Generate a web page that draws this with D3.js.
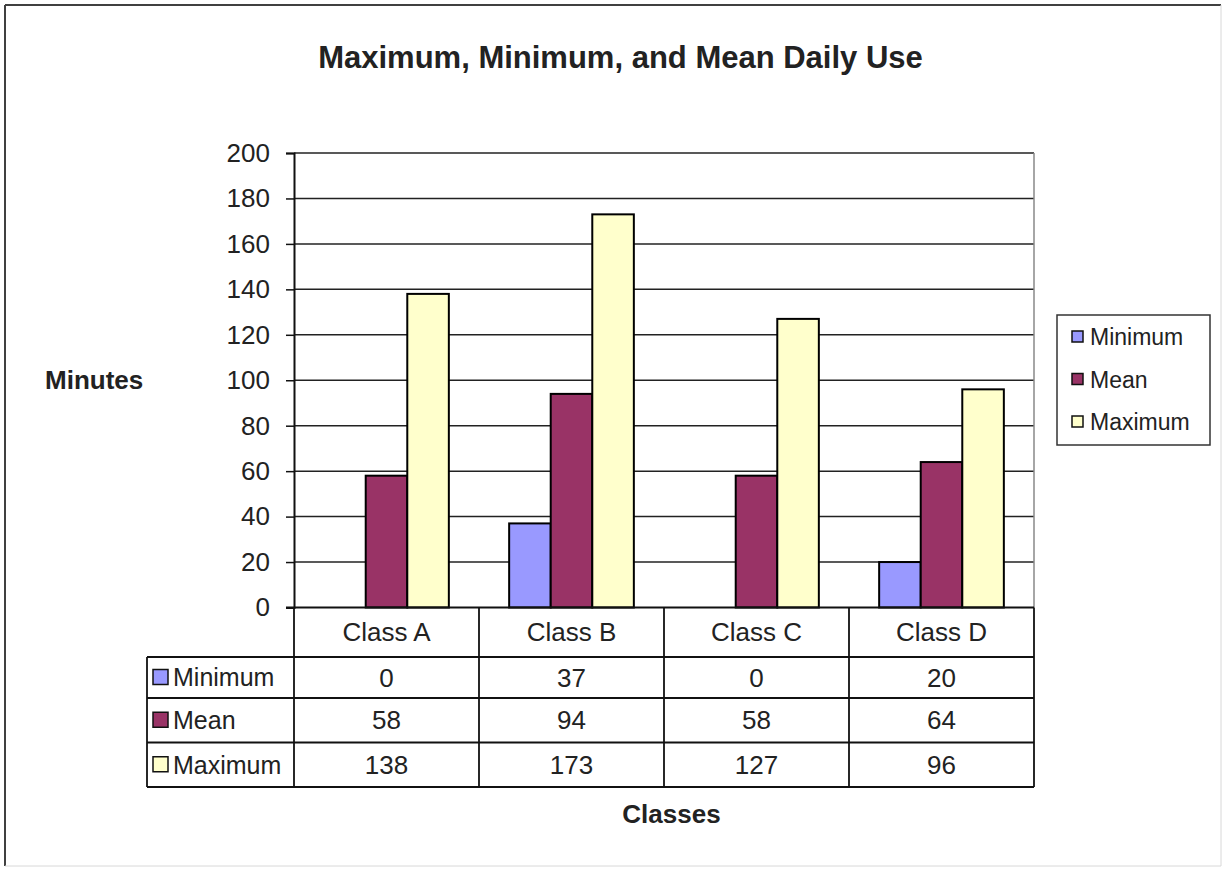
<!DOCTYPE html>
<html>
<head>
<meta charset="utf-8">
<script src="https://cdn.jsdelivr.net/npm/d3@7"></script>
<style>
html,body{margin:0;padding:0;background:#fff;}
svg{display:block;}
text{font-family:Arial,"Liberation Sans",sans-serif;fill:#222;}
</style>
</head>
<body>
<svg id="chart" width="1223" height="870"></svg>
<script>
const categories = ["Class A", "Class B", "Class C", "Class D"];
const seriesNames = ["Minimum", "Mean", "Maximum"];
const minimumValues = [0, 37, 0, 20];
const meanValues = [58, 94, 58, 64];
const maximumValues = [138, 173, 127, 96];
const yTicks = [0, 20, 40, 60, 80, 100, 120, 140, 160, 180, 200];
const seriesColors = ["#9999FF", "#993366", "#FFFFCC"];
const titleText = "Maximum, Minimum, and Mean Daily Use";
const yTitle = "Minutes";
const xTitle = "Classes";

const seriesValues = [minimumValues, meanValues, maximumValues];

const svg = d3.select("#chart");

// outer frame
svg.append("line").attr("x1",5).attr("y1",5).attr("x2",1221).attr("y2",5).attr("stroke","#404040").attr("stroke-width",2);
svg.append("line").attr("x1",5).attr("y1",5).attr("x2",5).attr("y2",866).attr("stroke","#404040").attr("stroke-width",2);
svg.append("line").attr("x1",1221).attr("y1",5).attr("x2",1221).attr("y2",866).attr("stroke","#d8d8d8").attr("stroke-width",1);
svg.append("line").attr("x1",5).attr("y1",866).attr("x2",1221).attr("y2",866).attr("stroke","#d8d8d8").attr("stroke-width",1);

const plotL = 294, plotR = 1034, plotT = 153, plotB = 607.5;

const x0 = d3.scaleBand().domain(categories).range([plotL, plotR]).padding(0);
const bw = x0.bandwidth();
const x1 = d3.scaleBand().domain(seriesNames).range([bw*0.163, bw*0.837]).padding(0);
const y = d3.scaleLinear().domain([0, 200]).range([plotB, plotT]);

// title
svg.append("text").attr("x", 620.5).attr("y", 68).attr("text-anchor","middle")
  .attr("font-size", 31).attr("font-weight","bold").attr("fill","#111").text(titleText);

// gridlines
svg.append("g").selectAll("line").data(yTicks.filter(d=>d>0)).join("line")
  .attr("x1", plotL).attr("x2", plotR)
  .attr("y1", d=>y(d)).attr("y2", d=>y(d))
  .attr("stroke", "#222").attr("stroke-width", 1.5);

// right plot border
svg.append("line").attr("x1",plotR).attr("x2",plotR).attr("y1",plotT).attr("y2",plotB)
  .attr("stroke","#888").attr("stroke-width",1.5);

// y axis
const yAxis = d3.axisLeft(y).tickValues(yTicks).tickSize(8).tickPadding(16);
const gy = svg.append("g").attr("transform", `translate(${plotL},0)`).call(yAxis);
gy.select(".domain").attr("stroke","#111").attr("stroke-width",2);
gy.selectAll(".tick line").attr("stroke","#111").attr("stroke-width",1.5);
gy.selectAll(".tick text").attr("font-size", 26).attr("fill","#333")
  .attr("font-family","Arial, 'Liberation Sans', sans-serif");

// bars
const groups = svg.append("g").selectAll("g").data(categories).join("g")
  .attr("transform", d => `translate(${x0(d)},0)`);
groups.selectAll("rect").data((c, i) => seriesNames.map((s, j) => ({s, j, v: seriesValues[j][i]})))
  .join("rect")
  .attr("x", d => x1(d.s))
  .attr("width", x1.bandwidth())
  .attr("y", d => y(d.v))
  .attr("height", d => y(0) - y(d.v))
  .attr("fill", d => seriesColors[d.j])
  .attr("stroke", "#000").attr("stroke-width", 2);

// x axis line
svg.append("line").attr("x1", plotL-8).attr("x2", plotR).attr("y1", plotB).attr("y2", plotB)
  .attr("stroke","#111").attr("stroke-width",2);

// data table
const rowEdges = [plotB, 657, 698, 742.5, 787];
const tableL = 147;
const tg = svg.append("g");
rowEdges.slice(1).forEach(ry => {
  tg.append("line").attr("x1", tableL).attr("x2", plotR).attr("y1", ry).attr("y2", ry)
    .attr("stroke","#111").attr("stroke-width",1.8);
});
tg.append("line").attr("x1", tableL).attr("x2", tableL).attr("y1", 657).attr("y2", 787).attr("stroke","#111").attr("stroke-width",1.8);
const colEdges = categories.map(c => x0(c)).concat([plotR]);
colEdges.forEach(cx => {
  tg.append("line").attr("x1", cx).attr("x2", cx).attr("y1", plotB).attr("y2", 787)
    .attr("stroke","#111").attr("stroke-width",1.8);
});
tg.selectAll("text.hdr").data(categories).join("text").attr("class","hdr")
  .attr("x", d => x0(d) + bw/2).attr("y", (rowEdges[0]+rowEdges[1])/2).attr("dy","0.35em")
  .attr("text-anchor","middle").attr("font-size",26).attr("fill","#333").text(d => d);
seriesNames.forEach((s, j) => {
  const cy = (rowEdges[j+1] + rowEdges[j+2]) / 2;
  tg.append("rect").attr("x", 153).attr("y", cy - 8).attr("width", 15).attr("height", 15)
    .attr("fill", seriesColors[j]).attr("stroke","#111").attr("stroke-width",1.5);
  tg.append("text").attr("x", 173).attr("y", cy).attr("dy","0.35em")
    .attr("font-size",25).attr("fill","#333").text(s);
  tg.selectAll(null).data(categories).join("text")
    .attr("x", d => x0(d) + bw/2).attr("y", cy).attr("dy","0.35em")
    .attr("text-anchor","middle").attr("font-size",26).attr("fill","#333")
    .text((d, i) => seriesValues[j][i]);
});

// axis titles
svg.append("text").attr("x", 45).attr("y", 389).attr("font-size", 26).attr("font-weight","bold")
  .attr("fill","#111").text(yTitle);
svg.append("text").attr("x", 671.5).attr("y", 823).attr("text-anchor","middle").attr("font-size", 26)
  .attr("font-weight","bold").attr("fill","#111").text(xTitle);

// legend
const lg = svg.append("g");
lg.append("rect").attr("x",1057).attr("y",315).attr("width",153).attr("height",130)
  .attr("fill","#fff").attr("stroke","#333").attr("stroke-width",1.5);
const legendY = d3.scalePoint().domain(seriesNames).range([337, 422]);
seriesNames.forEach((s, j) => {
  lg.append("rect").attr("x",1072).attr("y",legendY(s)-6).attr("width",11).attr("height",11)
    .attr("fill", seriesColors[j]).attr("stroke","#111").attr("stroke-width",1.5);
  lg.append("text").attr("x",1090).attr("y",legendY(s)).attr("dy","0.35em")
    .attr("font-size",23).attr("fill","#333").text(s);
});
</script>
</body>
</html>
